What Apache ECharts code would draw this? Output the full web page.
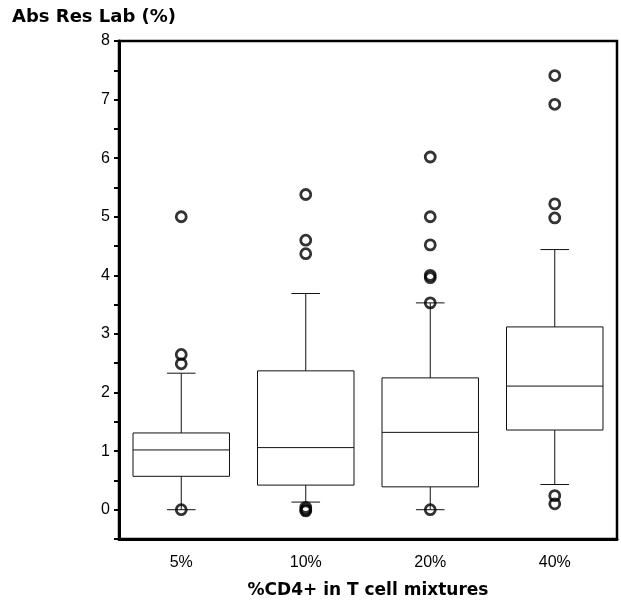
<!DOCTYPE html>
<html lang="en">
<head>
<meta charset="UTF-8">
<script src="https://cdn.jsdelivr.net/npm/echarts@6/dist/echarts.min.js"></script>
<title>Abs Res Lab</title>
<style>
  html, body { margin: 0; padding: 0; background: #fff; }
  #chart { width: 621px; height: 605px; }
</style>
</head>
<body>
<div id="chart"></div>
<script>
// categories on the x axis
var categories = ['5%', '10%', '20%', '40%'];
// box statistics, one value per category
var whiskerLow  = [0.00, 0.13, 0.00, 0.43];
var q1          = [0.57, 0.42, 0.39, 1.36];
var median      = [1.02, 1.06, 1.32, 2.11];
var q3          = [1.31, 2.37, 2.25, 3.12];
var whiskerHigh = [2.33, 3.69, 3.53, 4.44];
// outliers as [category index, value]
var outliers = [
  [0, 5.00], [0, 2.65], [0, 2.49], [0, 0.00],
  [1, 5.38], [1, 4.60], [1, 4.37], [1, 0.04], [1, 0.00], [1, -0.02],
  [2, 6.02], [2, 5.00], [2, 4.52], [2, 4.00], [2, 3.96], [2, 3.53], [2, 0.00],
  [3, 7.41], [3, 6.92], [3, 5.22], [3, 4.98], [3, 0.24], [3, 0.10]
];
var yTicks = [0, 1, 2, 3, 4, 5, 6, 7, 8];

var boxData = categories.map(function (c, i) {
  return [i, whiskerLow[i], q1[i], median[i], q3[i], whiskerHigh[i]];
});

function renderBox(params, api) {
  var idx = api.value(0);
  var band = api.size([1, 0])[0];
  var bw = band * 0.775;
  var cw = band * 0.23;
  var low = api.coord([idx, api.value(1)]);
  var p1 = api.coord([idx, api.value(2)]);
  var pm = api.coord([idx, api.value(3)]);
  var p3 = api.coord([idx, api.value(4)]);
  var high = api.coord([idx, api.value(5)]);
  var x = low[0];
  var st = { stroke: '#111', lineWidth: 1, fill: null };
  return {
    type: 'group',
    children: [
      { type: 'rect', shape: { x: x - bw / 2, y: p3[1], width: bw, height: p1[1] - p3[1] }, style: st },
      { type: 'line', shape: { x1: x - bw / 2, y1: pm[1], x2: x + bw / 2, y2: pm[1] }, style: st },
      { type: 'line', shape: { x1: x, y1: p3[1], x2: x, y2: high[1] }, style: st },
      { type: 'line', shape: { x1: x, y1: p1[1], x2: x, y2: low[1] }, style: st },
      { type: 'line', shape: { x1: x - cw / 2, y1: high[1], x2: x + cw / 2, y2: high[1] }, style: st },
      { type: 'line', shape: { x1: x - cw / 2, y1: low[1], x2: x + cw / 2, y2: low[1] }, style: st }
    ]
  };
}

var chart = echarts.init(document.getElementById('chart'));
chart.setOption({
  animation: false,
  backgroundColor: '#fff',
  grid: {
    left: 119, right: 4, top: 41, bottom: 66,
    show: true, borderColor: '#000', borderWidth: 2.5
  },
  xAxis: {
    type: 'category',
    data: categories,
    boundaryGap: true,
    name: '%CD4+ in T cell mixtures',
    nameLocation: 'middle',
    nameGap: 43,
    nameTextStyle: { fontFamily: 'DejaVu Sans', fontWeight: 'bold', fontSize: 17, color: '#000' },
    axisLine: { onZero: false, lineStyle: { color: '#000', width: 3 } },
    axisTick: { alignWithLabel: true, length: 5, lineStyle: { color: '#000', width: 2 } },
    axisLabel: { margin: 16, fontFamily: 'Liberation Sans', fontSize: 16, color: '#000' },
    splitLine: { show: false }
  },
  yAxis: {
    type: 'value',
    min: -0.5,
    max: 8,
    interval: 0.5,
    axisLine: { show: true, lineStyle: { color: '#000', width: 3 } },
    axisTick: { show: true, length: 5, lineStyle: { color: '#000', width: 2 } },
    axisLabel: {
      margin: 9, fontFamily: 'Liberation Sans', fontSize: 16, color: '#000',
      formatter: function (v) { return yTicks.indexOf(v) >= 0 ? String(v) : ''; }
    },
    splitLine: { show: false }
  },
  graphic: [{
    type: 'text', left: 12, top: 8,
    style: { text: 'Abs Res Lab (%)', fontFamily: 'DejaVu Sans', fontWeight: 'bold', fontSize: 18, fill: '#000' }
  }],
  series: [
    { type: 'custom', data: boxData, renderItem: renderBox, encode: { x: 0, y: [1, 2, 3, 4, 5] }, z: 2 },
    {
      type: 'scatter', data: outliers, symbol: 'circle', symbolSize: 10,
      itemStyle: { color: 'rgba(255,255,255,0)', borderColor: '#000', borderWidth: 2.8 },
      z: 3
    }
  ]
});
</script>
</body>
</html>
